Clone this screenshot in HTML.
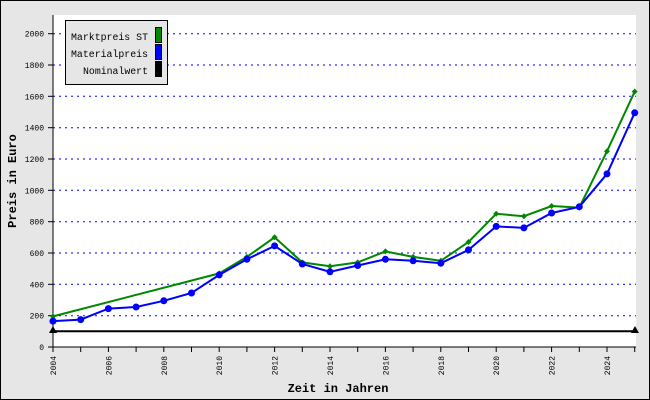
<!DOCTYPE html>
<html><head><style>body{margin:0;}svg{display:block;font-family:"Liberation Mono","DejaVu Sans Mono",monospace;}</style></head>
<body>
<svg width="650" height="400" xmlns="http://www.w3.org/2000/svg">
<rect x="0.5" y="0.5" width="649" height="399" fill="#e6e6e6" stroke="#000"/>
<rect x="53" y="15" width="583" height="332" fill="#fff"/>
<g stroke="#00f" stroke-dasharray="2,4" stroke-width="1">
<line x1="53" x2="636" y1="315.7" y2="315.7"/><line x1="53" x2="636" y1="284.3" y2="284.3"/><line x1="53" x2="636" y1="253" y2="253"/><line x1="53" x2="636" y1="221.7" y2="221.7"/><line x1="53" x2="636" y1="190.3" y2="190.3"/><line x1="53" x2="636" y1="159" y2="159"/><line x1="53" x2="636" y1="127.7" y2="127.7"/><line x1="53" x2="636" y1="96.3" y2="96.3"/><line x1="53" x2="636" y1="65" y2="65"/><line x1="53" x2="636" y1="33.7" y2="33.7"/>
</g>
<g stroke="#000" stroke-width="1">
<line x1="53" y1="15" x2="53" y2="352"/><line x1="48" y1="347" x2="636" y2="347"/>
<line x1="48" x2="53" y1="315.7" y2="315.7"/><line x1="48" x2="53" y1="284.3" y2="284.3"/><line x1="48" x2="53" y1="253" y2="253"/><line x1="48" x2="53" y1="221.7" y2="221.7"/><line x1="48" x2="53" y1="190.3" y2="190.3"/><line x1="48" x2="53" y1="159" y2="159"/><line x1="48" x2="53" y1="127.7" y2="127.7"/><line x1="48" x2="53" y1="96.3" y2="96.3"/><line x1="48" x2="53" y1="65" y2="65"/><line x1="48" x2="53" y1="33.7" y2="33.7"/>
<line x1="80.7" x2="80.7" y1="347" y2="352"/><line x1="108.4" x2="108.4" y1="347" y2="352"/><line x1="136.1" x2="136.1" y1="347" y2="352"/><line x1="163.8" x2="163.8" y1="347" y2="352"/><line x1="191.5" x2="191.5" y1="347" y2="352"/><line x1="219.2" x2="219.2" y1="347" y2="352"/><line x1="246.9" x2="246.9" y1="347" y2="352"/><line x1="274.6" x2="274.6" y1="347" y2="352"/><line x1="302.3" x2="302.3" y1="347" y2="352"/><line x1="330" x2="330" y1="347" y2="352"/><line x1="357.7" x2="357.7" y1="347" y2="352"/><line x1="385.4" x2="385.4" y1="347" y2="352"/><line x1="413.1" x2="413.1" y1="347" y2="352"/><line x1="440.8" x2="440.8" y1="347" y2="352"/><line x1="468.5" x2="468.5" y1="347" y2="352"/><line x1="496.2" x2="496.2" y1="347" y2="352"/><line x1="523.9" x2="523.9" y1="347" y2="352"/><line x1="551.6" x2="551.6" y1="347" y2="352"/><line x1="579.3" x2="579.3" y1="347" y2="352"/><line x1="607" x2="607" y1="347" y2="352"/><line x1="634.7" x2="634.7" y1="347" y2="352"/>
</g>
<g font-size="8" text-anchor="end" fill="#000">
<text x="44" y="350">0</text><text x="44" y="318.7">200</text><text x="44" y="287.3">400</text><text x="44" y="256">600</text><text x="44" y="224.7">800</text><text x="44" y="193.3">1000</text><text x="44" y="162">1200</text><text x="44" y="130.7">1400</text><text x="44" y="99.3">1600</text><text x="44" y="68">1800</text><text x="44" y="36.7">2000</text>
</g>
<g font-size="8" text-anchor="end" fill="#000">
<text transform="translate(56,356) rotate(-90)">2004</text><text transform="translate(111.4,356) rotate(-90)">2006</text><text transform="translate(166.8,356) rotate(-90)">2008</text><text transform="translate(222.2,356) rotate(-90)">2010</text><text transform="translate(277.6,356) rotate(-90)">2012</text><text transform="translate(333,356) rotate(-90)">2014</text><text transform="translate(388.4,356) rotate(-90)">2016</text><text transform="translate(443.8,356) rotate(-90)">2018</text><text transform="translate(499.2,356) rotate(-90)">2020</text><text transform="translate(554.6,356) rotate(-90)">2022</text><text transform="translate(610,356) rotate(-90)">2024</text>
</g>
<text x="338" y="392" font-size="12" font-weight="bold" text-anchor="middle">Zeit in Jahren</text>
<text transform="translate(16,181) rotate(-90)" font-size="12" font-weight="bold" text-anchor="middle">Preis in Euro</text>
<line x1="53" y1="331.3" x2="635" y2="331.3" stroke="#000" stroke-width="2"/>
<polygon points="53,326 49,333 57,333" fill="#000"/><polygon points="635,326 631,333 639,333" fill="#000"/>
<polyline fill="none" stroke="#080" stroke-width="2" points="53,316.4 219.2,273.4 246.9,256.9 274.6,237.3 302.3,262.4 330,266.3 357.7,262.4 385.4,251.4 413.1,256.9 440.8,260.8 468.5,242 496.2,213.8 523.9,216.2 551.6,206 579.3,207.6 607,151.2 634.7,91.6"/>
<g fill="#080">
<path d="M53,313.4l3,3-3,3-3-3z"/><path d="M219.2,270.4l3,3-3,3-3-3z"/><path d="M246.9,253.9l3,3-3,3-3-3z"/><path d="M274.6,234.3l3,3-3,3-3-3z"/><path d="M302.3,259.4l3,3-3,3-3-3z"/><path d="M330,263.3l3,3-3,3-3-3z"/><path d="M357.7,259.4l3,3-3,3-3-3z"/><path d="M385.4,248.4l3,3-3,3-3-3z"/><path d="M413.1,253.9l3,3-3,3-3-3z"/><path d="M440.8,257.8l3,3-3,3-3-3z"/><path d="M468.5,239l3,3-3,3-3-3z"/><path d="M496.2,210.8l3,3-3,3-3-3z"/><path d="M523.9,213.2l3,3-3,3-3-3z"/><path d="M551.6,203l3,3-3,3-3-3z"/><path d="M579.3,204.6l3,3-3,3-3-3z"/><path d="M607,148.2l3,3-3,3-3-3z"/><path d="M634.7,88.6l3,3-3,3-3-3z"/>
</g>
<polyline fill="none" stroke="#00f" stroke-width="2" points="53,321.1 80.7,319.6 108.4,308.6 136.1,307 163.8,300.8 191.5,293 219.2,274.9 246.9,259.3 274.6,245.9 302.3,264 330,271.8 357.7,265.5 385.4,259.3 413.1,260.8 440.8,263.2 468.5,249.9 496.2,226.4 523.9,227.9 551.6,213 579.3,206.8 607,173.9 634.7,112.8"/>
<g fill="#00f">
<circle cx="53" cy="321.1" r="3.5"/><circle cx="80.7" cy="319.6" r="3.5"/><circle cx="108.4" cy="308.6" r="3.5"/><circle cx="136.1" cy="307" r="3.5"/><circle cx="163.8" cy="300.8" r="3.5"/><circle cx="191.5" cy="293" r="3.5"/><circle cx="219.2" cy="274.9" r="3.5"/><circle cx="246.9" cy="259.3" r="3.5"/><circle cx="274.6" cy="245.9" r="3.5"/><circle cx="302.3" cy="264" r="3.5"/><circle cx="330" cy="271.8" r="3.5"/><circle cx="357.7" cy="265.5" r="3.5"/><circle cx="385.4" cy="259.3" r="3.5"/><circle cx="413.1" cy="260.8" r="3.5"/><circle cx="440.8" cy="263.2" r="3.5"/><circle cx="468.5" cy="249.9" r="3.5"/><circle cx="496.2" cy="226.4" r="3.5"/><circle cx="523.9" cy="227.9" r="3.5"/><circle cx="551.6" cy="213" r="3.5"/><circle cx="579.3" cy="206.8" r="3.5"/><circle cx="607" cy="173.9" r="3.5"/><circle cx="634.7" cy="112.8" r="3.5"/>
</g>
<rect x="65.5" y="20.5" width="102" height="64" fill="#e6e6e6" stroke="#000"/>
<g font-size="10" text-anchor="end" fill="#000">
<text x="148" y="40" textLength="77" lengthAdjust="spacingAndGlyphs">Marktpreis ST</text><text x="148" y="57" textLength="77" lengthAdjust="spacingAndGlyphs">Materialpreis</text><text x="148" y="74" textLength="65" lengthAdjust="spacingAndGlyphs">Nominalwert</text>
</g>
<rect x="155.5" y="27.5" width="6" height="15" fill="#080" stroke="#000"/>
<rect x="155.5" y="44.5" width="6" height="15" fill="#00f" stroke="#000"/>
<rect x="155.5" y="61.5" width="6" height="15" fill="#000" stroke="#000"/>
</svg>
</body></html>
